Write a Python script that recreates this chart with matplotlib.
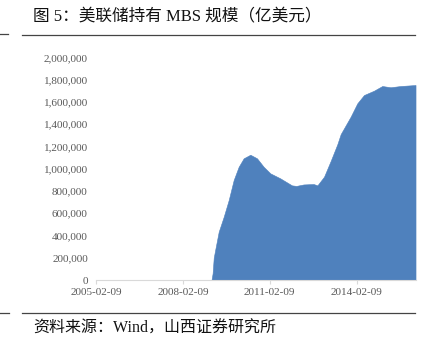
import matplotlib
matplotlib.use("Agg")
import matplotlib.pyplot as plt
import matplotlib.dates as mdates
import matplotlib.ticker as mticker
import numpy as np
import pandas as pd

# Fed MBS holdings
dates = ["2009-02-04", "2009-02-18", "2009-03-04", "2009-03-25", "2009-05-06",
         "2009-07-08", "2009-09-09", "2009-11-11", "2010-01-13", "2010-03-17",
         "2010-06-09", "2010-09-01", "2010-11-24", "2011-02-16", "2011-06-22",
         "2011-08-03", "2011-11-16", "2012-01-11", "2012-04-11", "2012-08-15",
         "2012-10-03", "2012-12-26", "2013-03-20", "2013-06-12", "2013-07-24",
         "2013-11-27", "2014-02-19", "2014-05-14", "2014-09-17", "2014-12-31",
         "2015-04-15", "2015-08-19", "2016-02-24"]
values = [0, 60000, 200000, 280000, 434000,
          568000, 718000, 898000, 1017000, 1093000,
          1125000, 1093000, 1017000, 958000, 913000,
          895000, 850000, 845000, 858000, 862000,
          850000, 928000, 1070000, 1220000, 1310000,
          1467000, 1587000, 1661000, 1700000, 1742000,
          1731000, 1742000, 1751000]
tick_dates = ["2005-02-09", "2008-02-09", "2011-02-09", "2014-02-09"]
x_start, x_end = "2005-02-09", "2016-03-01"

title = "图 5：美联储持有 MBS 规模（亿美元）"
source = "资料来源：Wind，山西证券研究所"

fam = ["Liberation Serif", "Noto Sans CJK SC", "DejaVu Sans"]
plt.rcParams["font.family"] = fam

W, H = 427, 339
fig = plt.figure(figsize=(W / 100, H / 100), dpi=100)
ax = fig.add_axes([96.2 / W, 1 - 280 / H, (416 - 96.2) / W, (280 - 57.3) / H])

d = pd.to_datetime(dates)
ax.fill_between(d, 0, values, color="#4F81BD", linewidth=0.4, edgecolor="#4F81BD")

ax.set_xlim(pd.Timestamp(x_start), pd.Timestamp(x_end))
ax.set_ylim(0, 2000000)
ax.set_yticks(np.arange(0, 2000001, 200000))
ax.yaxis.set_major_formatter(mticker.FuncFormatter(lambda v, p: f"{int(v):,}"))
ax.set_xticks(pd.to_datetime(tick_dates))
ax.xaxis.set_major_formatter(mdates.DateFormatter("%Y-%m-%d"))

for s in ["top", "right", "left"]:
    ax.spines[s].set_visible(False)
ax.spines["bottom"].set_color("#D9D9D9")
ax.spines["bottom"].set_linewidth(0.8)
ax.tick_params(axis="y", length=0, pad=6, labelsize=8, labelcolor="#595959")
ax.tick_params(axis="x", length=3, color="#D9D9D9", pad=3, labelsize=8, labelcolor="#595959")

fig.text(33 / W, 1 - 17 / H, title, fontsize=12, va="center", ha="left", color="#111111")
fig.add_artist(plt.Line2D([22 / W, 415 / W], [1 - 35 / H] * 2, color="#444444", lw=0.9))
fig.add_artist(plt.Line2D([0, 8 / W], [1 - 34 / H] * 2, color="#444444", lw=0.9))
fig.add_artist(plt.Line2D([22 / W, 415 / W], [1 - 313 / H] * 2, color="#444444", lw=0.9))
fig.add_artist(plt.Line2D([0, 9 / W], [1 - 313 / H] * 2, color="#444444", lw=0.9))
fig.text(33 / W, 1 - 321 / H, source, fontsize=11.5, va="top", ha="left", color="#111111")

fig.savefig("out.png", dpi=100)
